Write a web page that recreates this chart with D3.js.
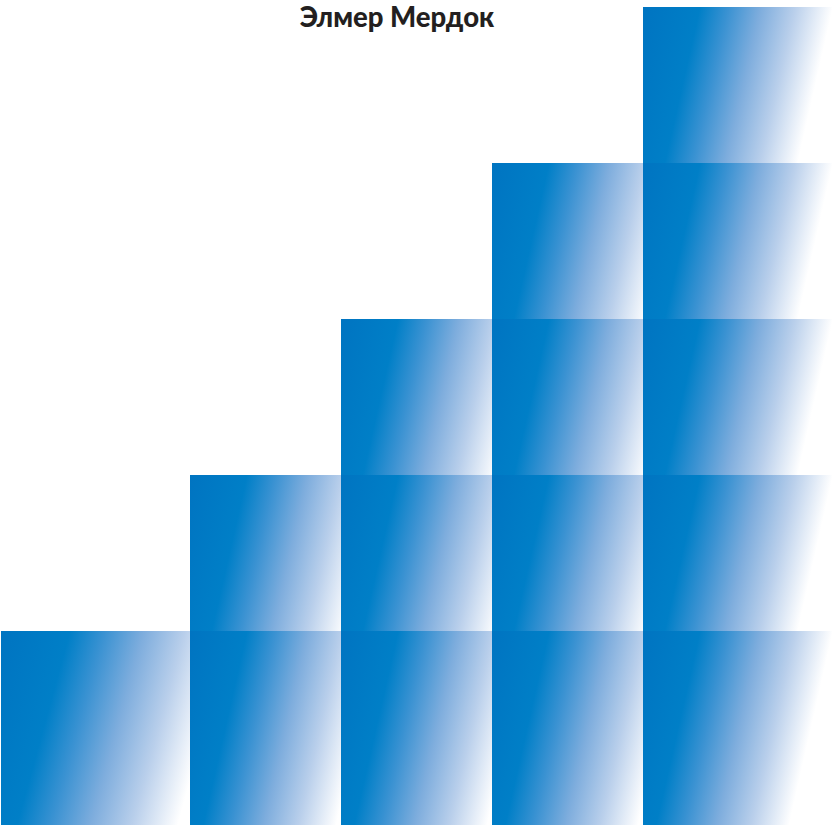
<!DOCTYPE html>
<html>
<head>
<meta charset="utf-8">
<script src="https://cdn.jsdelivr.net/npm/d3@7"></script>
<style>
  body { margin: 0; background: #fff; }
</style>
</head>
<body>
<div id="chart"></div>
<script>
const title = "Элмер Мердок";
const columns = ["1", "2", "3", "4", "5"];
const counts = [1, 2, 3, 4, 5];

function init() {
    var w = 832;
    var h = 825;

    var svg = d3.select("#chart")
                .append("svg")
                .attr("width", w)
                .attr("height", h);

    //tilted blue-to-white gradient used by every square
    var grad = svg.append("defs")
        .append("linearGradient")
        .attr("id", "blueFade")
        .attr("x1", 0).attr("y1", 0)
        .attr("x2", 0.95).attr("y2", 0.22);
    [[0, "#0074c1"], [0.3, "#007fc7"], [0.45, "#3a92d2"], [0.62, "#7eaddd"], [0.8, "#b9cfeb"], [1, "#ffffff"]]
        .forEach(s => grad.append("stop").attr("offset", s[0]).attr("stop-color", s[1]));

    //square positions: first column sits at the edge, the rest step ~151px
    var xScale = d3.scaleLinear()
                .domain([0, 1, columns.length - 1])
                .range([1, 190, 643]);

    var yScale = d3.scaleLinear()
                .domain([0, d3.max(counts)])
                .range([787, 7]);

    var cellW = 190;
    var cellH = 194;

    //one cell per unit, drawn left to right and top to bottom so later ones overlap
    var cells = [];
    counts.forEach((c, i) => {
        for (var k = c; k >= 1; k--) cells.push({col: i, level: k});
    });

    svg.selectAll("rect.cell")
        .data(cells)
        .enter()
        .append("rect")
        .attr("class", "cell")
        .attr("x", d => xScale(d.col))
        .attr("y", d => yScale(d.level))
        .attr("width", d => d.col === 0 ? cellW + 40 : cellW) //first square is partly hidden by the next one
        .attr("height", cellH)
        .attr("fill", "url(#blueFade)");

    //title
    svg.append("text")
        .attr("text-anchor", "middle")
        .attr("x", 397)
        .attr("y", 27)
        .attr("fill", "#231f20")
        .style("font-family", "Lato, sans-serif")
        .style("font-weight", "900")
        .style("font-size", "27.5px")
        .text(title);
}

window.onload = init();
</script>
</body>
</html>
